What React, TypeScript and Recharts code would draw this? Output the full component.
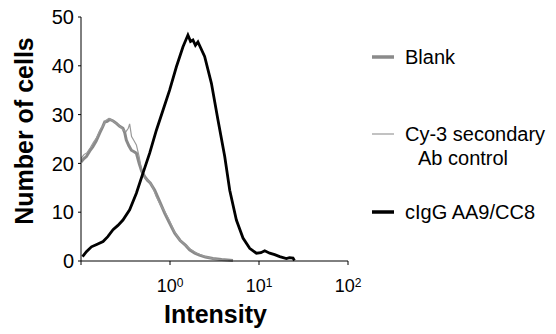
import { Label, Legend, Line, LineChart, XAxis, YAxis } from "recharts";

const FONT = "'Liberation Sans', Arial, sans-serif";

// Blank (thick grey)
const blankX = [
  0.1, 0.108, 0.115, 0.125, 0.136, 0.148, 0.162, 0.175, 0.185, 0.197, 0.21,
  0.23, 0.25, 0.272, 0.296, 0.31, 0.323, 0.345, 0.368, 0.395, 0.419, 0.45,
  0.48, 0.52, 0.56, 0.6, 0.673, 0.76, 0.871, 0.98, 1.13, 1.3, 1.5, 1.66, 1.9,
  2.14, 2.5, 3.04, 3.8, 5.1,
];
const blankY = [
  20.3, 21.0, 21.4, 22.5, 23.4, 24.6, 26.2, 27.5, 28.5, 28.6, 29.0, 28.7,
  28.2, 27.6, 27.2, 26.3, 24.8, 23.6, 22.7, 22.4, 22.1, 20.0, 18.4, 17.3,
  16.5, 16.0, 14.5, 12.3, 9.8, 7.9, 5.7, 4.2, 3.2, 2.3, 1.6, 1.2, 0.8, 0.5,
  0.3, 0.1,
];

// Cy-3 secondary Ab control (thin grey)
const cy3X = [
  0.1, 0.108, 0.117, 0.127, 0.138, 0.15, 0.163, 0.178, 0.19, 0.205, 0.22,
  0.24, 0.26, 0.28, 0.3, 0.32, 0.34, 0.352, 0.37, 0.39, 0.419, 0.45, 0.47,
  0.5, 0.54, 0.58, 0.63, 0.7, 0.78, 0.87, 0.98, 1.1, 1.25, 1.45, 1.7, 2.0,
  2.4, 2.9, 3.5, 4.5,
];
const cy3Y = [
  21.0, 21.8, 22.2, 23.2, 24.3, 25.3, 26.8, 27.8, 28.8, 29.2, 28.9, 28.4,
  28.0, 27.4, 26.8, 26.5, 27.2, 28.1, 25.5, 24.8, 23.8, 21.4, 19.5, 17.6,
  16.8, 16.3, 15.4, 13.2, 11.5, 10.2, 8.4, 6.3, 4.6, 3.4, 2.4, 1.6, 1.0, 0.6,
  0.3, 0.1,
];

// cIgG AA9/CC8 (black)
const iggX = [
  0.104, 0.115, 0.131, 0.15, 0.177, 0.2, 0.229, 0.26, 0.296, 0.352, 0.419,
  0.497, 0.591, 0.703, 0.834, 0.99, 1.18, 1.4, 1.59, 1.7, 1.81, 1.93, 2.06,
  2.45, 2.92, 3.46, 4.12, 4.69, 5.57, 6.61, 7.86, 9.35, 10.5, 11.6, 13.2, 15,
  17.1, 20.3, 22, 24.1, 25,
];
const iggY = [
  0.9, 1.9, 2.9, 3.4, 4.0, 5.0, 6.4, 7.3, 8.4, 10.5, 13.9, 18.0, 22.1, 26.8,
  30.9, 35.0, 39.8, 43.9, 46.3, 45.0, 45.3, 44.2, 44.9, 41.9, 36.4, 28.9,
  21.4, 14.5, 8.4, 4.7, 2.6, 1.6, 1.7, 2.1, 1.6, 1.3, 0.9, 0.5, 0.7, 0.6, 0.1,
];

const xTicks = [0.1, 1, 10, 100];
const yTicks = [0, 10, 20, 30, 40, 50];

const toRows = (xs: number[], ys: number[]) =>
  xs.map((x, i) => ({ intensity: x, count: ys[i] }));

const blankData = toRows(blankX, blankY);
const cy3Data = toRows(cy3X, cy3Y);
const iggData = toRows(iggX, iggY);

function PowerTick(props: any) {
  const { x, y, payload } = props;
  const exp = Math.round(Math.log10(payload.value));
  if (exp < 0) return null;
  return (
    <text x={x} y={y + 25} textAnchor="middle" fontFamily={FONT} fontSize={18} fill="#000">
      <tspan>10</tspan>
      <tspan dy={-5} fontSize={12}>
        {exp}
      </tspan>
    </text>
  );
}

function LegendBox() {
  const items = [
    { y: 57, color: "#8a8a8a", w: 3.5, lines: ["Blank"] },
    { y: 134, color: "#999999", w: 1.2, lines: ["Cy-3 secondary", "Ab control"] },
    { y: 212, color: "#000000", w: 3.5, lines: ["cIgG AA9/CC8"] },
  ];
  return (
    <svg width={556} height={334}>
      {items.map((it) => (
        <g key={it.lines[0]}>
          <line x1={372} x2={394} y1={it.y} y2={it.y} stroke={it.color} strokeWidth={it.w} />
          {it.lines.map((t, i) => (
            <text
              key={t}
              x={i === 0 ? 405 : 418}
              y={it.y + 7 + i * 24}
              fontFamily={FONT}
              fontSize={20}
              fill="#000"
            >
              {t}
            </text>
          ))}
        </g>
      ))}
    </svg>
  );
}

export default function App() {
  return (
    <div style={{ width: 556, height: 334, position: "relative" }}>
      <style>{"body{margin:0}"}</style>
      <LineChart width={556} height={334} margin={{ top: 17, right: 208, bottom: 0, left: 0 }}>
        <XAxis
          dataKey="intensity"
          type="number"
          scale="log"
          domain={[0.1, 100]}
          ticks={xTicks}
          allowDataOverflow
          height={73}
          stroke="#000"
          tickSize={4}
          tick={<PowerTick />}
        >
          <Label
            content={(p: any) => (
              <text
                x={p.viewBox.x + p.viewBox.width / 2 + 1}
                y={323}
                textAnchor="middle"
                fontFamily={FONT}
                fontWeight="bold"
                fontSize={25}
                fill="#000"
              >
                Intensity
              </text>
            )}
          />
        </XAxis>
        <YAxis
          type="number"
          domain={[0, 50]}
          ticks={yTicks}
          width={81}
          stroke="#000"
          tickSize={3}
          tickMargin={4}
          tick={{ fill: "#000", fontSize: 20, fontFamily: FONT }}
        >
          <Label
            content={(p: any) => (
              <text
                x={0}
                y={0}
                transform={`translate(33, ${p.viewBox.y + p.viewBox.height / 2 - 8}) rotate(-90)`}
                textAnchor="middle"
                fontFamily={FONT}
                fontWeight="bold"
                fontSize={25}
                fill="#000"
              >
                Number of cells
              </text>
            )}
          />
        </YAxis>
        <Legend
          layout="horizontal"
          verticalAlign="middle"
          align="center"
          wrapperStyle={{ left: 0, top: 0, width: 556, height: 334 }}
          content={() => <LegendBox />}
        />
        <Line
          data={blankData}
          dataKey="count"
          type="linear"
          stroke="#8a8a8a"
          strokeWidth={3}
          dot={false}
          isAnimationActive={false}
        />
        <Line
          data={cy3Data}
          dataKey="count"
          type="linear"
          stroke="#999999"
          strokeWidth={1.2}
          dot={false}
          isAnimationActive={false}
        />
        <Line
          data={iggData}
          dataKey="count"
          type="linear"
          stroke="#000000"
          strokeWidth={2.8}
          dot={false}
          isAnimationActive={false}
        />
      </LineChart>
    </div>
  );
}
